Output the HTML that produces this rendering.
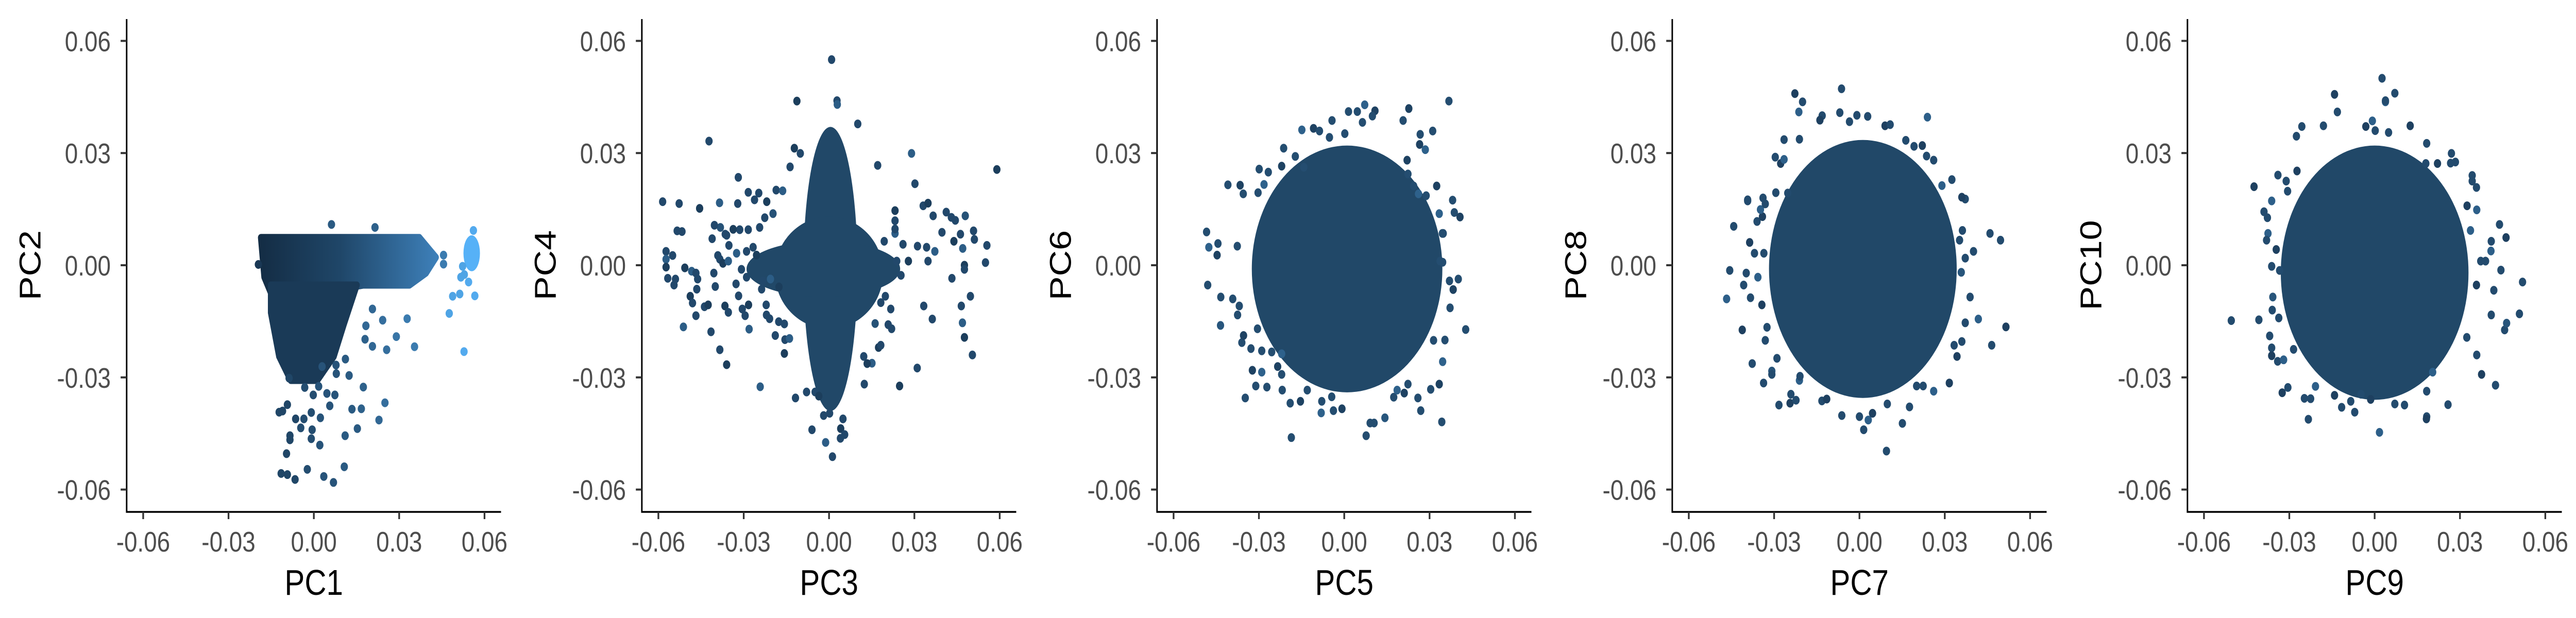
<!DOCTYPE html>
<html><head><meta charset="utf-8"><style>
html,body{margin:0;padding:0;background:#fff;width:100%;height:100%;overflow:hidden;}
svg{display:block;width:100vw;height:100vh;}
text{font-family:"Liberation Sans",Arial,sans-serif;}
</style></head><body>
<svg id="chart" viewBox="0 0 6000 1200" preserveAspectRatio="none" xmlns="http://www.w3.org/2000/svg">
<defs>
<linearGradient id="bandGrad" x1="0" x2="1" y1="0" y2="0">
<stop offset="0" stop-color="#142d45"/><stop offset="0.45" stop-color="#1f4668"/><stop offset="1" stop-color="#3d7fb8"/>
</linearGradient>
</defs>
</svg>
<script>
// ---- shared axis data ----
const tickValues = [-0.06, -0.03, 0.00, 0.03, 0.06];
const tickLabels = ["-0.06", "-0.03", "0.00", "0.03", "0.06"];
const xTitles = ["PC1", "PC3", "PC5", "PC7", "PC9"];
const yTitles = ["PC2", "PC4", "PC6", "PC8", "PC10"];

// ---- outlier points per panel (data coordinates) ----
const p1x = [0.0062,0.0215,0.0561,-0.0195,0.0456,0.0456,0.0517,0.0488,0.0513,0.0566,0.0476,0.0528,0.0328,0.0290,0.0354,0.0256,0.0206,0.0180,0.0206,0.0242,0.0183,0.0174,0.0250,0.0229,0.0167,0.0134,0.0153,0.0110,0.0107,0.0069,0.0035,-0.0023,-0.0066,-0.0093,-0.0115,-0.0096,-0.0084,-0.0084,-0.0046,-0.0009,0.0021,-0.0006,-0.0035,-0.0064,-0.0093,-0.0122,-0.0110,-0.0009,0.0023,0.0056,0.0074,0.0017,-0.0002,0.0046,-0.0032,-0.0087,0.0124,0.0111,0.0079,0.0029,0.0078,0.0523,0.0529,0.0544,0.0517];
const p1y = [0.0109,0.0101,0.0093,0.0002,0.0027,0.0003,-0.0032,-0.0083,-0.0077,-0.0082,-0.0129,-0.0231,-0.0143,-0.0191,-0.0218,-0.0226,-0.0217,-0.0198,-0.0117,-0.0147,-0.0162,-0.0326,-0.0368,-0.0414,-0.0384,-0.0385,-0.0437,-0.0456,-0.0539,-0.0581,-0.0565,-0.0546,-0.0573,-0.0560,-0.0557,-0.0504,-0.0456,-0.0467,-0.0435,-0.0464,-0.0481,-0.0440,-0.0411,-0.0411,-0.0373,-0.0393,-0.0390,-0.0394,-0.0408,-0.0376,-0.0347,-0.0324,-0.0347,-0.0343,-0.0327,-0.0302,-0.0295,-0.0251,-0.0290,-0.0271,-0.0267,-0.0003,-0.0025,-0.0045,-0.0032];
const p1shade = [0.35,0.4,0.95,0.1,0.6,0.6,0.9,0.9,0.9,0.95,0.9,0.95,0.6,0.55,0.6,0.5,0.45,0.4,0.45,0.5,0.45,0.4,0.5,0.45,0.4,0.35,0.35,0.35,0.35,0.3,0.3,0.25,0.2,0.2,0.2,0.2,0.2,0.2,0.25,0.25,0.3,0.25,0.25,0.2,0.2,0.2,0.2,0.25,0.3,0.3,0.3,0.3,0.25,0.3,0.25,0.2,0.35,0.35,0.3,0.3,0.3,0.9,0.9,0.95,0.9];

const p2x = [0.0009,-0.0113,0.0028,0.0029,-0.0422,0.0101,-0.0122,-0.0101,-0.0137,0.0171,0.0290,0.0590,0.0302,-0.0319,-0.0585,-0.0527,-0.0455,-0.0385,-0.0321,-0.0284,-0.0247,-0.0219,-0.0262,-0.0186,-0.0163,0.0331,0.0348,0.0366,0.0412,0.0430,0.0444,0.0479,0.0508,0.0511,0.0555,0.0550,0.0476,0.0476,0.0470,0.0462,0.0397,0.0439,0.0432,0.0497,0.0465,0.0469,0.0476,0.0504,0.0333,0.0363,0.0310,0.0248,0.0372,0.0343,0.0348,0.0311,0.0279,0.0253,0.0238,0.0232,0.0260,0.0232,0.0232,0.0232,0.0194,0.0198,0.0162,0.0182,0.0217,0.0208,0.0220,0.0174,0.0182,0.0151,0.0122,0.0124,0.0134,-0.0534,-0.0517,-0.0573,-0.0573,-0.0573,-0.0550,-0.0540,-0.0545,-0.0567,-0.0507,-0.0483,-0.0468,-0.0462,-0.0465,-0.0488,-0.0480,-0.0468,-0.0512,-0.0438,-0.0425,-0.0415,-0.0405,-0.0400,-0.0384,-0.0382,-0.0365,-0.0411,-0.0403,-0.0391,-0.0373,-0.0352,-0.0354,-0.0327,-0.0318,-0.0366,-0.0354,-0.0305,-0.0295,-0.0281,-0.0283,-0.0237,-0.0220,-0.0221,-0.0384,-0.0360,-0.0242,-0.0118,-0.0079,-0.0049,-0.0036,-0.0019,-0.0060,-0.0012,0.0012,0.0041,0.0055,0.0040,0.0049,0.0002,-0.0197,-0.0226,-0.0244,-0.0284,-0.0267,-0.0255,-0.0290,-0.0325,-0.0314,-0.0360,-0.0337,-0.0290,-0.0308,-0.0232,-0.0206,-0.0176,-0.0157,-0.0177,-0.0189,-0.0155,-0.0157,-0.0139,-0.0209];
const p2y = [0.0550,0.0439,0.0440,0.0430,0.0332,0.0378,0.0313,0.0299,0.0263,0.0267,0.0299,0.0256,0.0218,0.0235,0.0170,0.0165,0.0152,0.0167,0.0165,0.0195,0.0193,0.0170,0.0175,0.0201,0.0199,0.0159,0.0166,0.0132,0.0142,0.0128,0.0120,0.0132,0.0092,0.0069,0.0053,0.0007,0.0000,-0.0011,0.0045,0.0083,0.0088,0.0064,-0.0035,-0.0083,-0.0109,-0.0154,-0.0193,-0.0240,-0.0109,-0.0144,-0.0275,-0.0323,0.0037,0.0048,0.0011,0.0051,0.0011,-0.0027,0.0011,0.0085,0.0056,0.0146,0.0119,0.0097,0.0064,-0.0083,-0.0156,-0.0100,-0.0117,-0.0159,-0.0170,-0.0220,-0.0214,-0.0262,-0.0244,-0.0318,-0.0263,0.0092,0.0090,0.0037,0.0016,-0.0005,0.0026,-0.0037,-0.0053,-0.0035,-0.0007,-0.0016,-0.0021,-0.0037,-0.0064,-0.0083,-0.0101,-0.0135,-0.0165,-0.0111,-0.0106,-0.0178,-0.0021,-0.0057,0.0016,0.0101,0.0083,0.0071,0.0107,0.0026,0.0005,0.0053,0.0011,-0.0050,-0.0082,-0.0109,-0.0126,-0.0117,-0.0135,-0.0171,-0.0106,-0.0064,-0.0133,-0.0106,-0.0226,-0.0266,-0.0325,-0.0355,-0.0339,-0.0339,-0.0350,-0.0402,-0.0440,-0.0474,-0.0512,-0.0437,-0.0453,-0.0463,-0.0411,-0.0396,0.0138,0.0127,0.0101,0.0095,0.0048,0.0027,0.0037,0.0032,0.0095,0.0080,0.0096,-0.0032,-0.0011,-0.0042,-0.0037,-0.0058,-0.0157,-0.0151,-0.0188,-0.0199,-0.0236,-0.0196,-0.0143];

const p3x = [0.0368,0.0227,0.0207,0.0072,0.0015,0.0046,0.0108,0.0099,-0.0043,0.0064,-0.0149,-0.0108,-0.0087,0.0267,0.0311,-0.0213,0.0265,0.0285,-0.0052,0.0002,-0.0409,-0.0366,-0.0355,-0.0484,-0.0476,-0.0444,-0.0447,-0.0376,-0.0480,-0.0434,-0.0392,-0.0435,-0.0369,-0.0375,0.0381,0.0387,0.0407,0.0345,0.0334,0.0401,0.0370,0.0383,0.0372,0.0427,0.0354,0.0346,0.0334,0.0304,0.0314,-0.0348,-0.0311,-0.0323,-0.0290,-0.0272,-0.0218,-0.0190,-0.0154,-0.0186,-0.0079,-0.0081,-0.0038,-0.0008,-0.0044,0.0077,0.0091,0.0105,0.0143,0.0269,0.0259,0.0343,0.0174,0.0211,0.0224,0.0186,-0.0328,-0.0360,-0.0354,-0.0305,-0.0290,-0.0255,-0.0220,-0.0234,-0.0220,-0.0130,-0.0299,-0.0267,-0.0220,-0.0282,-0.0303,-0.0172,-0.0142,0.0221,0.0224,0.0244,0.0261,0.0288,0.0325,0.0348,0.0337,0.0346];
const p3y = [0.0439,0.0419,0.0387,0.0429,0.0411,0.0411,0.0413,0.0399,0.0387,0.0382,0.0362,0.0366,0.0359,0.0350,0.0359,0.0313,0.0323,0.0309,0.0342,0.0352,0.0215,0.0214,0.0191,0.0089,0.0048,0.0058,0.0027,0.0051,-0.0053,-0.0085,-0.0090,-0.0161,-0.0109,-0.0133,0.0174,0.0141,0.0129,0.0085,0.0138,-0.0037,-0.0042,-0.0065,-0.0114,-0.0172,-0.0200,-0.0258,-0.0318,-0.0332,-0.0201,-0.0355,-0.0323,-0.0281,-0.0286,-0.0326,-0.0334,-0.0369,-0.0364,-0.0461,-0.0364,-0.0395,-0.0389,-0.0384,-0.0352,-0.0456,-0.0422,-0.0422,-0.0408,-0.0389,-0.0355,-0.0419,-0.0353,-0.0342,-0.0318,-0.0334,-0.0223,-0.0207,-0.0188,-0.0170,-0.0229,-0.0232,-0.0237,-0.0271,-0.0292,-0.0334,0.0257,0.0249,0.0265,0.0216,0.0194,0.0291,0.0262,0.0281,0.0244,0.0212,0.0191,0.0186,0.0212,0.0085,0.0011,0.0008];

const p4x = [-0.0063,-0.0227,-0.0200,-0.0213,-0.0069,-0.0131,-0.0139,-0.0035,-0.0009,0.0029,0.0239,0.0090,0.0108,-0.0265,-0.0211,-0.0296,-0.0277,-0.0265,-0.0393,-0.0339,-0.0442,-0.0386,-0.0456,-0.0407,-0.0467,-0.0383,-0.0412,-0.0377,-0.0331,-0.0325,-0.0290,-0.0308,-0.0308,-0.0337,-0.0283,-0.0241,-0.0244,-0.0223,-0.0211,-0.0209,-0.0132,-0.0115,-0.0062,0.0000,0.0015,0.0031,0.0046,0.0098,0.0095,0.0151,0.0176,0.0316,0.0261,0.0224,0.0201,0.0333,0.0343,0.0360,0.0372,0.0418,0.0465,0.0515,0.0496,0.0459,0.0401,0.0389,0.0358,0.0372,0.0352,0.0362,0.0372,0.0360,0.0325,0.0290,0.0236,0.0261,0.0221,0.0192,0.0163,-0.0398,-0.0357,-0.0343,-0.0336,-0.0369,-0.0393,-0.0360,-0.0341,-0.0348,-0.0331,-0.0294,-0.0252];
const p4y = [0.0472,0.0459,0.0437,0.0410,0.0408,0.0400,0.0388,0.0384,0.0401,0.0398,0.0396,0.0373,0.0376,0.0336,0.0337,0.0289,0.0272,0.0283,0.0172,0.0180,0.0104,0.0061,-0.0014,-0.0053,-0.0090,-0.0087,-0.0173,-0.0263,-0.0201,-0.0166,-0.0249,-0.0283,-0.0292,-0.0315,-0.0374,-0.0345,-0.0369,-0.0361,-0.0308,-0.0297,-0.0363,-0.0358,-0.0402,-0.0405,-0.0440,-0.0414,-0.0396,-0.0371,-0.0497,-0.0423,-0.0379,-0.0315,-0.0337,-0.0323,-0.0323,-0.0214,-0.0244,-0.0204,-0.0154,-0.0144,-0.0214,-0.0165,0.0067,0.0085,0.0037,-0.0085,-0.0019,0.0019,0.0067,0.0093,0.0177,0.0182,0.0229,0.0213,0.0292,0.0281,0.0320,0.0318,0.0334,-0.0021,-0.0032,-0.0106,0.0032,0.0032,0.0175,0.0117,0.0130,0.0149,0.0164,0.0194,0.0193];

const p5x = [0.0026,-0.0141,0.0071,0.0038,0.0038,-0.0131,0.0125,-0.0256,-0.0275,-0.0180,-0.0008,-0.0031,0.0002,0.0049,0.0183,0.0270,-0.0424,-0.0362,-0.0340,-0.0311,-0.0306,-0.0273,-0.0389,-0.0377,-0.0375,-0.0380,-0.0346,-0.0362,-0.0334,-0.0504,-0.0407,-0.0358,-0.0360,-0.0337,-0.0369,-0.0362,-0.0362,-0.0341,-0.0320,-0.0285,-0.0305,-0.0325,-0.0247,-0.0225,-0.0233,-0.0208,-0.0141,-0.0116,-0.0084,-0.0070,-0.0048,-0.0014,0.0017,0.0071,0.0105,0.0183,0.0182,0.0258,0.0183,0.0204,0.0359,0.0376,0.0425,0.0324,0.0410,0.0457,0.0464,0.0509,0.0520,0.0444,0.0419,0.0462,0.0439,0.0409,0.0390,0.0373,0.0358,0.0343,0.0358,0.0410,0.0359,0.0325,0.0343,0.0284,0.0267,0.0180,0.0221,0.0337];
const p5y = [0.0500,0.0457,0.0460,0.0437,0.0440,0.0410,0.0373,0.0371,0.0345,0.0373,0.0386,0.0371,0.0360,0.0355,0.0326,0.0299,0.0210,0.0172,0.0241,0.0225,0.0198,0.0252,0.0143,0.0127,0.0085,0.0067,0.0042,-0.0003,-0.0014,-0.0148,-0.0146,-0.0085,-0.0120,-0.0141,-0.0189,-0.0221,-0.0242,-0.0257,-0.0253,-0.0225,-0.0327,-0.0341,-0.0356,-0.0357,-0.0412,-0.0324,-0.0348,-0.0380,-0.0364,-0.0393,-0.0345,-0.0359,-0.0447,-0.0371,-0.0374,-0.0405,-0.0411,-0.0373,-0.0337,-0.0286,-0.0240,-0.0292,-0.0321,-0.0193,-0.0133,-0.0173,-0.0155,-0.0130,-0.0045,-0.0013,-0.0067,0.0074,0.0109,0.0038,0.0011,0.0011,-0.0053,0.0225,0.0208,0.0064,0.0148,0.0159,0.0240,0.0276,0.0273,0.0272,0.0272,0.0093];

// ---- dense cores (ellipses: cx, cy, rx, ry in data units) ----
const coreCx = [[0.0555], [0.0005, 0.0000, -0.0020], [0.0010], [0.0012], [0.0000]];
const coreCy = [[0.0032], [-0.0010, -0.0020, -0.0010], [-0.0010], [-0.0010], [-0.0020]];
const coreRx = [[0.0029], [0.0095, 0.0190, 0.0270], [0.0335], [0.0330], [0.0330]];
const coreRy = [[0.0048], [0.0380, 0.0150, 0.0075], [0.0330], [0.0345], [0.0340]];
// panel 1 band + wedge outlines (data units)
const bandX = [-0.0186,0.0371,0.0406,0.0429,0.0394,0.0336,0.0174,0.0058,-0.0058,-0.0151,-0.0174];
const bandY = [0.0074,0.0074,0.0042,0.0021,-0.0021,-0.0053,-0.0053,-0.0069,-0.0080,-0.0074,-0.0032];
const wedgeX = [-0.0151,0.0151,0.0105,0.0070,0.0012,-0.0081,-0.0122,-0.0151];
const wedgeY = [-0.0053,-0.0053,-0.0159,-0.0244,-0.0308,-0.0308,-0.0244,-0.0127];

const NS = "http://www.w3.org/2000/svg";
const svg = document.getElementById("chart");
const X0 = 731, XS = 6625, Y0 = 515, YS = 7260;
function sx(v){ return X0 + v * XS; }
function sy(v){ return Y0 - v * YS; }
function mk(tag, attrs, parent){ const e = document.createElementNS(NS, tag); for (const k in attrs) e.setAttribute(k, attrs[k]); parent.appendChild(e); return e; }
function shadeColor(t){
  const a=[0x13,0x2b,0x43], b=[0x56,0xb1,0xf7];
  return "rgb(" + a.map((c,i)=>Math.round(c+(b[i]-c)*t)).join(",") + ")";
}
const panelsX = [p1x, p2x, p3x, p4x, p5x];
const panelsY = [p1y, p2y, p3y, p4y, p5y];
const panelShadeDefault = [0.3, 0.22, 0.25, 0.24, 0.24];

for (let p = 0; p < 5; p++) {
  const g = mk("g", {transform: "translate(" + (p*1200) + ",0)"}, svg);
  
  
  const plot = mk("g", {}, g);
  
  
  if (p === 0) {
    const band = mk("polygon", {points: bandX.map((v,i)=>sx(v)+","+sy(bandY[i])).join(" "), fill: "url(#bandGrad)", stroke: "url(#bandGrad)", "stroke-width": 14, "stroke-linejoin": "round"}, plot);
    
    
    const wedge = mk("polygon", {points: wedgeX.map((v,i)=>sx(v)+","+sy(wedgeY[i])).join(" "), fill: "#1a3a57", stroke: "#1a3a57", "stroke-width": 14, "stroke-linejoin": "round"}, plot);
    
    
  }
  for (let k = 0; k < coreCx[p].length; k++) {
    const c = mk("ellipse", {cx: sx(coreCx[p][k]), cy: sy(coreCy[p][k]), rx: coreRx[p][k]*XS, ry: coreRy[p][k]*YS, fill: p === 0 ? "#56b1f7" : "#214868"}, plot);
    
    
  }
  const xs = panelsX[p], ys = panelsY[p];
  for (let i = 0; i < xs.length; i++) {
    const t = p === 0 ? p1shade[i] : panelShadeDefault[p] + ((i % 7) === 3 ? 0.15 : 0) - ((i % 5) === 1 ? 0.08 : 0);
    const c = mk("circle", {cx: sx(xs[i]), cy: sy(ys[i]), r: 8.5, fill: shadeColor(t)}, plot);
    
    
  }
  // axes
  const yax = mk("line", {x1: 295, y1: 37, x2: 295, y2: 995.5, stroke: "#000", "stroke-width": 3.5}, g);
  
  
  const xax = mk("line", {x1: 293.5, y1: 994, x2: 1167, y2: 994, stroke: "#000", "stroke-width": 3.5}, g);
  
  
  for (let i = 0; i < tickValues.length; i++) {
    const ty = sy(tickValues[i]);
    const t1 = mk("line", {x1: 281, y1: ty, x2: 295, y2: ty, stroke: "#333", "stroke-width": 4}, g);
    
    
    const l1 = mk("text", {x: 258, y: ty + 20, "text-anchor": "end", "font-size": 55, fill: "#4d4d4d"}, g);
    l1.textContent = tickLabels[i];
    
    
    const tx = sx(tickValues[i]);
    const t2 = mk("line", {x1: tx, y1: 994, x2: tx, y2: 1008, stroke: "#333", "stroke-width": 4}, g);
    
    
    const l2 = mk("text", {x: tx, y: 1071, "text-anchor": "middle", "font-size": 55, fill: "#4d4d4d"}, g);
    l2.textContent = tickLabels[i];
    
    
  }
  const xt = mk("text", {x: 731, y: 1155, "text-anchor": "middle", "font-size": 70, fill: "#000"}, g);
  xt.textContent = xTitles[p];
  
  
  const yt = mk("text", {x: 0, y: 0, transform: "translate(94,515) rotate(-90)", "text-anchor": "middle", "font-size": 70, fill: "#000"}, g);
  yt.textContent = yTitles[p];
  
  
}
</script>
</body></html>
